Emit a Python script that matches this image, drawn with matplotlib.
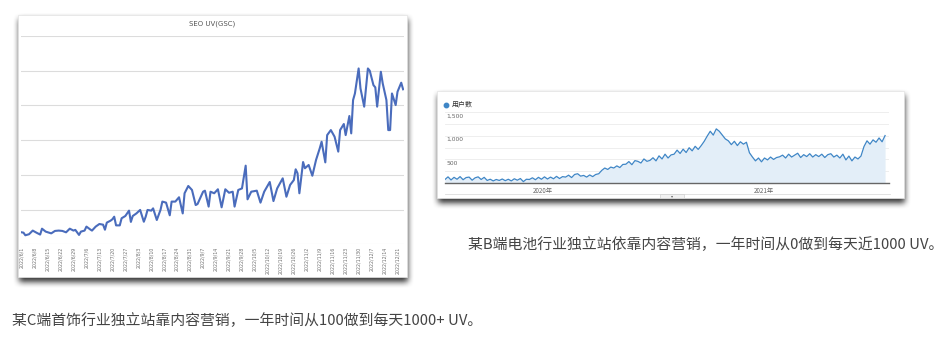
import numpy as np
import pandas as pd
import matplotlib
matplotlib.use("Agg")
import matplotlib.pyplot as plt
import matplotlib.transforms as mtransforms

# ---- left chart: SEO UV (GSC), daily, 2022/6/1 onwards (day offset, UV) ----
seo_days = [0, 1, 2, 4, 6, 8, 10, 11, 13, 16, 18, 20, 22, 24, 26, 28, 29, 31, 32, 34,
            35, 37, 38, 40, 42, 44, 45, 46, 48, 49, 50, 51, 53, 54, 56, 58, 59, 60, 62, 64,
            66, 67, 68, 70, 71, 73, 75, 76, 78, 80, 81, 83, 85, 87, 88, 90, 92, 94, 95, 98,
            99, 101, 102, 104, 106, 108, 110, 112, 114, 115, 117, 119, 121, 122, 124, 127, 129, 131, 134, 136,
            138, 141, 143, 145, 147, 148, 149, 150, 152, 153, 155, 157, 159, 161, 162, 164, 165, 167, 169, 171,
            172, 174, 175, 177, 178, 179, 180, 182, 183, 185, 187, 188, 190, 191, 192, 194, 195, 197, 198, 199,
            200, 202, 203, 205, 206]
seo_uv = [69, 67, 52, 58, 79, 67, 56, 90, 73, 63, 77, 79, 77, 69, 90, 79, 83, 54, 73, 79,
          102, 86, 79, 102, 117, 113, 84, 125, 136, 144, 159, 109, 109, 150, 163, 194, 129, 163, 178, 198,
          130, 159, 198, 194, 207, 140, 198, 246, 240, 167, 246, 246, 271, 178, 294, 336, 313, 226, 232, 303,
          309, 217, 303, 294, 317, 213, 317, 297, 303, 217, 313, 322, 453, 259, 303, 309, 240, 303, 359, 249,
          322, 380, 274, 342, 370, 432, 409, 294, 474, 438, 457, 395, 486, 553, 591, 472, 629, 658, 620, 534,
          658, 693, 629, 739, 639, 831, 869, 1013, 898, 793, 1013, 1000, 917, 904, 793, 994, 927, 831, 658, 658,
          869, 802, 879, 931, 893]
seo_ticks = ["2022/6/1", "2022/6/8", "2022/6/15", "2022/6/22", "2022/6/29", "2022/7/6",
             "2022/7/13", "2022/7/20", "2022/7/27", "2022/8/3", "2022/8/10", "2022/8/17",
             "2022/8/24", "2022/8/31", "2022/9/7", "2022/9/14", "2022/9/21", "2022/9/28",
             "2022/10/5", "2022/10/12", "2022/10/19", "2022/10/26", "2022/11/2", "2022/11/9",
             "2022/11/16", "2022/11/23", "2022/11/30", "2022/12/7", "2022/12/14", "2022/12/21"]

# ---- right chart: users (用户数), one reading every 5 days from 2019-07-22 ----
users = [80, 135, 70, 125, 85, 140, 75, 120, 130, 65, 115, 135, 80, 125,
         60, 85, 50, 80, 60, 90, 55, 85, 50, 95, 65, 100, 35, 85,
         80, 115, 75, 125, 85, 135, 90, 130, 95, 145, 100, 140,
         130, 170, 120, 185, 200, 150, 165, 130, 175, 140, 185,
         200, 270, 320, 290, 340,
         320, 365, 330, 395,
         400, 455, 390, 475, 460, 425, 510, 460,
         480, 535, 470, 575, 510, 610, 530, 595,
         610, 695, 625, 715, 645, 745, 680, 775, 710,
         790, 880,
         990, 1090, 1010, 1140, 1090,
         1010, 930,
         890, 810, 880, 790, 870, 820, 860,
         640, 550,
         470, 530, 450,
         530, 490, 550, 500, 540, 555,
         590, 530, 610, 550, 590, 630, 540, 600, 560, 620, 550, 600, 560, 610, 540, 600, 620, 550, 590, 530, 610,
         490, 570, 470, 550, 510,
         570, 770, 890,
         820, 910, 860, 950, 870, 1000]
users_dates = pd.date_range("2019-07-22", periods=len(users), freq="5D")
year_ticks = ["2020-01-01", "2021-01-01"]
year_labels = ["2020年", "2021年"]

caption_b = "某B端电池行业独立站依靠内容营销，一年时间从0做到每天近1000 UV。"
caption_c = "某C端首饰行业独立站靠内容营销，一年时间从100做到每天1000+ UV。"

W, H = 949, 337
cjk = ["Noto Sans CJK SC", "DejaVu Sans"]

fig = plt.figure(figsize=(W / 100, H / 100), dpi=100)
fig.patch.set_facecolor("white")

# background layer in pixel coordinates: drop shadows + white cards
bg = fig.add_axes([0, 0, 1, 1])
bg.set_xlim(0, W)
bg.set_ylim(H, 0)
bg.axis("off")

cards = [(18, 15, 407, 277), (437, 91, 904, 198)]
mask = np.zeros((H, W))
for x0, y0, x1, y1 in cards:
    mask[y0 + 4:y1 + 5, x0 + 1:x1 + 1] = 1.0
k = np.ones(7) / 7
for _ in range(2):
    mask = np.apply_along_axis(lambda r: np.convolve(r, k, mode="same"), 1, mask)
    mask = np.apply_along_axis(lambda c: np.convolve(c, k, mode="same"), 0, mask)
shadow = np.zeros((H, W, 4))
shadow[..., 3] = mask * 0.8
bg.imshow(shadow, extent=(0, W, H, 0), interpolation="bilinear", zorder=0)
for x0, y0, x1, y1 in cards:
    bg.add_patch(plt.Rectangle((x0, y0), x1 - x0, y1 - y0, facecolor="white",
                               edgecolor="#e4e4e4", lw=0.5, zorder=1))

# left chart
ax = fig.add_axes([20.7 / W, 1 - 244.3 / H, (404 - 20.7) / W, (244.3 - 36) / H])
ax.set_facecolor("none")
ax.plot(seo_days, seo_uv, color="#4a6cbc", lw=1.5, solid_joinstyle="round")
ax.set_xlim(-0.5, 206.5)
ax.set_ylim(0, 1200)
ax.set_yticks(range(0, 1201, 200))
ax.yaxis.grid(True, color="#dcdcdc", lw=0.8)
ax.set_axisbelow(True)
ax.tick_params(axis="y", length=0, labelleft=False)
ax.set_xticks(range(0, 7 * len(seo_ticks), 7))
ax.set_xticklabels(seo_ticks, rotation=90, fontsize=3.4, color="#707070")
ax.tick_params(axis="x", length=0, pad=2)
for s in ax.spines.values():
    s.set_visible(False)
bg.text(212, 24, "SEO UV(GSC)", ha="center", va="center", fontsize=5, color="#555555")

# right chart
ax2 = fig.add_axes([445 / W, 1 - 183.3 / H, (889.3 - 445) / W, (183.3 - 111.7) / H])
ax2.set_facecolor("none")
ax2.fill_between(users_dates, users, color="#e3eef8", lw=0)
ax2.plot(users_dates, users, color="#3f86c6", lw=0.9)
ax2.set_xlim(users_dates[0], users_dates[0] + pd.Timedelta(days=737))
ax2.set_ylim(0, 1500)
ax2.set_yticks(range(250, 1501, 250))
ax2.yaxis.grid(True, color="#ebebeb", lw=0.6)
ax2.set_axisbelow(True)
ax2.tick_params(axis="y", length=0, labelleft=False)
ax2.set_xticks(pd.to_datetime(year_ticks))
ax2.set_xticklabels(year_labels, fontsize=4.5, color="#666666", family=cjk)
ax2.tick_params(axis="x", length=0, pad=3)
for s in ["top", "right", "left"]:
    ax2.spines[s].set_visible(False)
ax2.spines["bottom"].set_color("#666666")
ax2.spines["bottom"].set_linewidth(1.0)
blend = mtransforms.blended_transform_factory(ax2.transAxes, ax2.transData)
for v in (500, 1000, 1500):
    ax2.text(0.004, v - 35, f"{v:,}", transform=blend, ha="left", va="top",
             fontsize=4.3, color="#666666")

bg.plot([445.7], [104.7], "o", color="#3f86c6", ms=3.2, zorder=3)
bg.text(452, 104.7, "用户数", ha="left", va="center", fontsize=5, color="#333333", family=cjk)
bg.plot([445, 890], [193.5, 193.5], color="#dddddd", lw=0.6, zorder=3)
bg.add_patch(plt.Rectangle((660, 193.5), 24, 4.5, facecolor="#f2f2f2",
                           edgecolor="#d0d0d0", lw=0.5, zorder=3))
bg.text(672, 195.8, "▾", ha="center", va="center", fontsize=3, color="#666666")

# captions
bg.text(468, 245, caption_b, ha="left", va="center", fontsize=10.7, color="#444444", family=cjk)
bg.text(12, 321, caption_c, ha="left", va="center", fontsize=10.7, color="#444444", family=cjk)

fig.savefig("out.png", dpi=100, facecolor="white")
